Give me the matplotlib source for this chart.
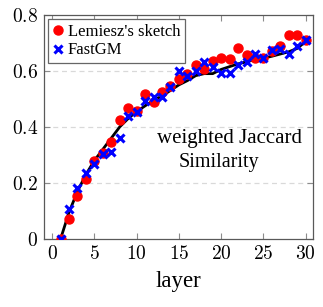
import matplotlib
matplotlib.use("Agg")
import matplotlib.pyplot as plt

plt.rcParams["font.family"] = ["Liberation Serif", "DejaVu Serif"]
plt.rcParams["mathtext.fontset"] = "cm"

layers = list(range(1, 31))

lemiesz = [0.0, 0.071, 0.155, 0.215, 0.277, 0.308, 0.346, 0.425, 0.466, 0.457,
           0.518, 0.49, 0.523, 0.545, 0.57, 0.587, 0.622, 0.606, 0.636, 0.645,
           0.642, 0.681, 0.656, 0.645, 0.645, 0.671, 0.687, 0.726, 0.726, 0.711]

fastgm = [0.0, 0.106, 0.181, 0.237, 0.267, 0.302, 0.31, 0.36, 0.44, 0.455,
          0.494, 0.508, 0.506, 0.542, 0.6, 0.582, 0.601, 0.631, 0.612, 0.592,
          0.592, 0.621, 0.63, 0.66, 0.645, 0.675, 0.677, 0.66, 0.687, 0.711]

exact = [0.0, 0.095, 0.17, 0.23, 0.28, 0.32, 0.36, 0.40, 0.43, 0.455,
         0.475, 0.495, 0.51, 0.53, 0.55, 0.565, 0.583, 0.59, 0.59, 0.605,
         0.615, 0.625, 0.632, 0.64, 0.645, 0.652, 0.66, 0.668, 0.68, 0.705]

xticks = [0, 5, 10, 15, 20, 25, 30]
yticks = [0, 0.2, 0.4, 0.6, 0.8]

fig = plt.figure(figsize=(3.23, 3.07), dpi=100)
ax = fig.add_axes([0.135, 0.221, 0.835, 0.731])

ax.plot(layers, exact, color="black", lw=2.0, zorder=2)
ax.plot(layers, lemiesz, "o", color="red", ms=6.5, mec="red", zorder=3,
        label="Lemiesz's sketch")
ax.plot(layers, fastgm, "x", color="blue", ms=6, mew=2.2, zorder=4,
        label="FastGM")

ax.set_xlim(-1, 30.9)
ax.set_ylim(0, 0.8)
ax.set_xticks(xticks)
ax.set_xticklabels([f"${t}$" for t in xticks])
ax.set_yticks(yticks)
ax.set_yticklabels(["$0$", "$0.2$", "$0.4$", "$0.6$", "$0.8$"])
ax.tick_params(direction="in", top=True, right=True, labelsize=14,
               color="0.55", length=4, pad=4)
for s in ax.spines.values():
    s.set_color("0.35")
    s.set_linewidth(0.9)

for t in [0.2, 0.4, 0.6]:
    ax.axhline(t, color="0.85", ls=(0, (4, 3)), lw=0.9, zorder=1)

ax.set_xlabel("layer", fontsize=16.5, labelpad=6)

ax.text(21.0, 0.36, "weighted Jaccard", fontsize=15, ha="center", va="center")
ax.text(19.7, 0.272, "Similarity", fontsize=14.5, ha="center", va="center")

leg = ax.legend(loc="upper left", fontsize=12, handlelength=0.6,
                handletextpad=0.3, borderpad=0.3, labelspacing=0.15,
                borderaxespad=0.25, fancybox=False, framealpha=1)
leg.get_frame().set_edgecolor("0.4")
leg.get_frame().set_linewidth(0.9)

fig.savefig("out.png", dpi=100)
